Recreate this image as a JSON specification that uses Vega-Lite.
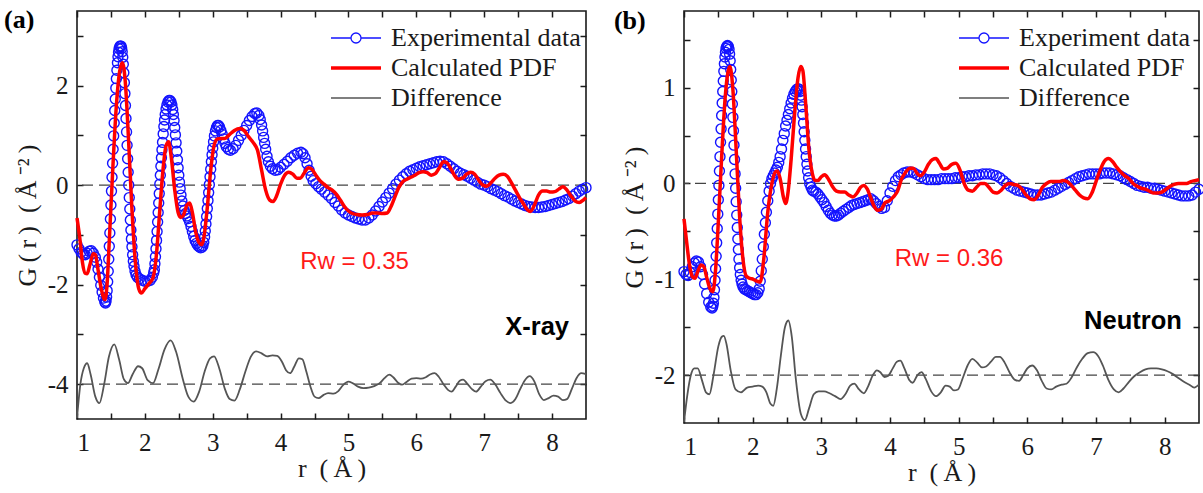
{
"$schema": "https://vega.github.io/schema/vega-lite/v6.json",
"padding": {"left": 3, "top": 6, "right": 2, "bottom": 2},
"background": "white",
"spacing": 18,
"config": {
  "view": {"stroke": "#1a1a1a", "strokeWidth": 1.6},
  "axis": {"grid": false, "domain": false, "labelFont": "Liberation Serif", "labelFontSize": 25, "labelColor": "#1a1a1a", "titleFont": "Liberation Serif", "titleFontSize": 26, "titleFontWeight": "normal", "titleColor": "#1a1a1a", "tickColor": "#1a1a1a", "tickWidth": 1.5, "tickSize": -6, "labelPadding": 15, "labelOverlap": false},
  "axisX": {"labelPadding": 17},
  "legend": {"title": null, "padding": 0, "rowPadding": 4, "labelOffset": 7, "symbolSize": 400, "labelFont": "Liberation Serif", "labelFontSize": 26, "labelColor": "#1a1a1a", "labelLimit": 400}
},
"resolve": {"scale": {"color": "independent"}, "legend": {"color": "independent"}},
"datasets": {
"expA": [{"r":1.0,"g":-1.2},{"r":1.03,"g":-1.28},{"r":1.06,"g":-1.35},{"r":1.09,"g":-1.39},{"r":1.12,"g":-1.4},{"r":1.15,"g":-1.37},{"r":1.18,"g":-1.33},{"r":1.21,"g":-1.32},{"r":1.24,"g":-1.37},{"r":1.27,"g":-1.45},{"r":1.29,"g":-1.55},{"r":1.31,"g":-1.69},{"r":1.33,"g":-1.85},{"r":1.35,"g":-2.01},{"r":1.37,"g":-2.15},{"r":1.39,"g":-2.27},{"r":1.41,"g":-2.35},
{"r":1.42,"g":-2.37},{"r":1.428,"g":-2.33},{"r":1.436,"g":-2.25},{"r":1.444,"g":-2.12},{"r":1.452,"g":-1.94},{"r":1.46,"g":-1.73},{"r":1.468,"g":-1.49},{"r":1.476,"g":-1.23},{"r":1.484,"g":-0.96},{"r":1.492,"g":-0.68},{"r":1.5,"g":-0.4},{"r":1.508,"g":-0.12},{"r":1.516,"g":0.16},{"r":1.524,"g":0.44},{"r":1.532,"g":0.72},{"r":1.54,"g":0.99},{"r":1.548,"g":1.25},{"r":1.556,"g":1.5},{"r":1.564,"g":1.73},{"r":1.572,"g":1.95},{"r":1.58,"g":2.14},{"r":1.588,"g":2.31},{"r":1.596,"g":2.46},{"r":1.604,"g":2.58},{"r":1.612,"g":2.67},{"r":1.62,"g":2.74},{"r":1.63,"g":2.78},{"r":1.64,"g":2.8},{"r":1.65,"g":2.79},{"r":1.658,"g":2.75},{"r":1.666,"g":2.68},{"r":1.674,"g":2.57},{"r":1.682,"g":2.43},{"r":1.69,"g":2.26},{"r":1.698,"g":2.06},{"r":1.706,"g":1.84},{"r":1.714,"g":1.6},{"r":1.722,"g":1.34},{"r":1.73,"g":1.07},{"r":1.738,"g":0.8},{"r":1.746,"g":0.53},{"r":1.754,"g":0.26},{"r":1.762,"g":0.0},{"r":1.77,"g":-0.25},{"r":1.778,"g":-0.48},{"r":1.786,"g":-0.7},{"r":1.794,"g":-0.9},{"r":1.802,"g":-1.08},{"r":1.81,"g":-1.24},{"r":1.82,"g":-1.4},{"r":1.83,"g":-1.53},{"r":1.84,"g":-1.63},{"r":1.855,"g":-1.73},{"r":1.87,"g":-1.8},{"r":1.89,"g":-1.85},{"r":1.92,"g":-1.88},{"r":1.96,"g":-1.91},{"r":2.0,"g":-1.93},{"r":2.04,"g":-1.93},{"r":2.08,"g":-1.91},{"r":2.11,"g":-1.85},{"r":2.13,"g":-1.76},
{"r":2.14,"g":-1.7},{"r":2.148,"g":-1.58},{"r":2.156,"g":-1.44},{"r":2.164,"g":-1.28},{"r":2.172,"g":-1.11},{"r":2.18,"g":-0.93},{"r":2.188,"g":-0.74},{"r":2.196,"g":-0.55},{"r":2.204,"g":-0.36},{"r":2.212,"g":-0.17},{"r":2.22,"g":0.02},{"r":2.228,"g":0.2},{"r":2.236,"g":0.38},{"r":2.244,"g":0.55},{"r":2.252,"g":0.71},{"r":2.26,"g":0.86},{"r":2.27,"g":1.03},{"r":2.28,"g":1.18},{"r":2.29,"g":1.31},{"r":2.3,"g":1.42},{"r":2.312,"g":1.53},{"r":2.325,"g":1.61},{"r":2.34,"g":1.67},{"r":2.355,"g":1.7},{"r":2.37,"g":1.7},
{"r":2.385,"g":1.67},{"r":2.398,"g":1.61},{"r":2.41,"g":1.52},{"r":2.42,"g":1.42},{"r":2.43,"g":1.3},{"r":2.44,"g":1.16},{"r":2.45,"g":1.01},{"r":2.46,"g":0.85},{"r":2.47,"g":0.68},{"r":2.48,"g":0.51},{"r":2.49,"g":0.35},{"r":2.5,"g":0.2},{"r":2.51,"g":0.06},{"r":2.52,"g":-0.07},{"r":2.532,"g":-0.2},{"r":2.545,"g":-0.32},{"r":2.56,"g":-0.42},{"r":2.58,"g":-0.51},{"r":2.6,"g":-0.57},{"r":2.62,"g":-0.62},{"r":2.64,"g":-0.67},{"r":2.66,"g":-0.74},{"r":2.68,"g":-0.83},{"r":2.7,"g":-0.93},{"r":2.72,"g":-1.03},{"r":2.74,"g":-1.11},{"r":2.76,"g":-1.17},{"r":2.78,"g":-1.21},{"r":2.8,"g":-1.24},{"r":2.82,"g":-1.26},{"r":2.84,"g":-1.25},
{"r":2.855,"g":-1.22},{"r":2.868,"g":-1.15},{"r":2.88,"g":-1.04},{"r":2.89,"g":-0.92},{"r":2.9,"g":-0.78},{"r":2.91,"g":-0.63},{"r":2.92,"g":-0.47},{"r":2.93,"g":-0.31},{"r":2.94,"g":-0.15},{"r":2.95,"g":0.01},{"r":2.96,"g":0.17},{"r":2.97,"g":0.32},{"r":2.98,"g":0.47},{"r":2.99,"g":0.61},{"r":3.0,"g":0.74},{"r":3.012,"g":0.87},{"r":3.025,"g":0.99},{"r":3.04,"g":1.09},{"r":3.055,"g":1.16},{"r":3.07,"g":1.2},{"r":3.085,"g":1.2},
{"r":3.1,"g":1.17},{"r":3.12,"g":1.1},{"r":3.14,"g":1.02},{"r":3.16,"g":0.93},{"r":3.18,"g":0.84},{"r":3.2,"g":0.77},{"r":3.23,"g":0.72},{"r":3.26,"g":0.7},{"r":3.3,"g":0.73},{"r":3.34,"g":0.8},{"r":3.38,"g":0.9},{"r":3.42,"g":1.0},{"r":3.46,"g":1.1},{"r":3.5,"g":1.2},{"r":3.54,"g":1.3},{"r":3.58,"g":1.38},{"r":3.62,"g":1.44},{"r":3.65,"g":1.45},{"r":3.68,"g":1.4},{"r":3.7,"g":1.32},{"r":3.72,"g":1.21},{"r":3.735,"g":1.09},{"r":3.75,"g":0.96},{"r":3.765,"g":0.84},{"r":3.78,"g":0.72},{"r":3.8,"g":0.58},{"r":3.82,"g":0.47},{"r":3.85,"g":0.38},{"r":3.88,"g":0.33},{"r":3.92,"g":0.3},{"r":3.96,"g":0.31},{"r":4.0,"g":0.36},{"r":4.05,"g":0.42},{"r":4.1,"g":0.48},{"r":4.15,"g":0.55},{"r":4.2,"g":0.6},{"r":4.25,"g":0.64},{"r":4.3,"g":0.66},{"r":4.33,"g":0.63},{"r":4.36,"g":0.55},{"r":4.39,"g":0.43},{"r":4.42,"g":0.3},{"r":4.45,"g":0.18},{"r":4.48,"g":0.09},{"r":4.52,"g":0.03},{"r":4.56,"g":-0.03},{"r":4.6,"g":-0.08},{"r":4.65,"g":-0.14},{"r":4.7,"g":-0.2},{"r":4.75,"g":-0.27},{"r":4.8,"g":-0.35},{"r":4.85,"g":-0.42},{"r":4.9,"g":-0.5},{"r":4.95,"g":-0.56},{"r":5.0,"g":-0.6},{"r":5.05,"g":-0.63},{"r":5.1,"g":-0.66},{"r":5.15,"g":-0.68},{"r":5.2,"g":-0.7},{"r":5.25,"g":-0.7},{"r":5.3,"g":-0.66},{"r":5.35,"g":-0.6},{"r":5.4,"g":-0.52},{"r":5.45,"g":-0.43},{"r":5.5,"g":-0.34},{"r":5.55,"g":-0.25},{"r":5.6,"g":-0.16},{"r":5.65,"g":-0.07},{"r":5.7,"g":0.02},{"r":5.75,"g":0.1},{"r":5.8,"g":0.17},{"r":5.85,"g":0.23},{"r":5.9,"g":0.28},{"r":5.95,"g":0.31},{"r":6.0,"g":0.34},{"r":6.05,"g":0.37},{"r":6.1,"g":0.39},{"r":6.15,"g":0.41},{"r":6.2,"g":0.43},{"r":6.25,"g":0.45},{"r":6.3,"g":0.47},{"r":6.35,"g":0.48},{"r":6.4,"g":0.47},{"r":6.45,"g":0.43},{"r":6.5,"g":0.38},{"r":6.55,"g":0.33},{"r":6.6,"g":0.28},{"r":6.65,"g":0.24},{"r":6.7,"g":0.21},{"r":6.75,"g":0.18},{"r":6.8,"g":0.14},{"r":6.85,"g":0.1},{"r":6.9,"g":0.06},{"r":6.95,"g":0.02},{"r":7.0,"g":0.0},{"r":7.05,"g":-0.03},{"r":7.1,"g":-0.07},{"r":7.15,"g":-0.1},{"r":7.2,"g":-0.13},{"r":7.25,"g":-0.17},{"r":7.3,"g":-0.21},{"r":7.35,"g":-0.24},{"r":7.4,"g":-0.28},{"r":7.45,"g":-0.32},{"r":7.5,"g":-0.35},{"r":7.55,"g":-0.38},{"r":7.6,"g":-0.41},{"r":7.65,"g":-0.43},{"r":7.7,"g":-0.44},{"r":7.75,"g":-0.45},{"r":7.8,"g":-0.45},{"r":7.85,"g":-0.44},{"r":7.9,"g":-0.43},{"r":7.95,"g":-0.41},{"r":8.0,"g":-0.39},{"r":8.05,"g":-0.37},{"r":8.1,"g":-0.35},{"r":8.15,"g":-0.33},{"r":8.2,"g":-0.3},{"r":8.25,"g":-0.27},{"r":8.3,"g":-0.22},{"r":8.35,"g":-0.17},{"r":8.4,"g":-0.12},{"r":8.45,"g":-0.08},{"r":8.5,"g":-0.05}],
"calcA": [{"r":1.0,"g":-0.66},{"r":1.04,"g":-1.05},{"r":1.08,"g":-1.55},{"r":1.12,"g":-1.77},{"r":1.15,"g":-1.78},{"r":1.19,"g":-1.6},{"r":1.24,"g":-1.38},{"r":1.27,"g":-1.4},{"r":1.31,"g":-1.7},{"r":1.36,"g":-2.1},{"r":1.41,"g":-2.3},{"r":1.44,"g":-2.05},{"r":1.48,"g":-1.0},{"r":1.53,"g":0.4},{"r":1.58,"g":1.6},{"r":1.63,"g":2.3},{"r":1.67,"g":2.46},{"r":1.71,"g":2.1},{"r":1.76,"g":0.9},{"r":1.81,"g":-0.5},{"r":1.86,"g":-1.55},{"r":1.91,"g":-2.08},{"r":1.95,"g":-2.17},{"r":2.0,"g":-2.08},{"r":2.06,"g":-1.98},{"r":2.12,"g":-1.86},{"r":2.17,"g":-1.4},{"r":2.22,"g":-0.5},{"r":2.27,"g":0.35},{"r":2.31,"g":0.78},{"r":2.35,"g":0.87},{"r":2.39,"g":0.55},{"r":2.44,"g":-0.1},{"r":2.49,"g":-0.55},{"r":2.53,"g":-0.65},{"r":2.57,"g":-0.6},{"r":2.62,"g":-0.4},{"r":2.66,"g":-0.36},{"r":2.7,"g":-0.55},{"r":2.75,"g":-0.95},{"r":2.8,"g":-1.16},{"r":2.84,"g":-1.2},{"r":2.87,"g":-1.05},{"r":2.92,"g":-0.45},{"r":2.97,"g":0.3},{"r":3.02,"g":0.8},{"r":3.07,"g":0.93},{"r":3.12,"g":0.94},{"r":3.18,"g":0.94},{"r":3.25,"g":1.02},{"r":3.32,"g":1.1},{"r":3.4,"g":1.14},{"r":3.46,"g":1.1},{"r":3.53,"g":0.97},{"r":3.6,"g":0.85},{"r":3.66,"g":0.7},{"r":3.72,"g":0.3},{"r":3.78,"g":-0.1},{"r":3.84,"g":-0.3},{"r":3.89,"g":-0.33},{"r":3.94,"g":-0.22},{"r":4.0,"g":0.02},{"r":4.06,"g":0.2},{"r":4.12,"g":0.26},{"r":4.18,"g":0.22},{"r":4.24,"g":0.14},{"r":4.29,"g":0.14},{"r":4.35,"g":0.25},{"r":4.41,"g":0.35},{"r":4.46,"g":0.32},{"r":4.52,"g":0.2},{"r":4.58,"g":0.09},{"r":4.64,"g":0.02},{"r":4.7,"g":-0.05},{"r":4.76,"g":-0.1},{"r":4.82,"g":-0.18},{"r":4.88,"g":-0.3},{"r":4.94,"g":-0.43},{"r":5.0,"g":-0.52},{"r":5.06,"g":-0.57},{"r":5.12,"g":-0.59},{"r":5.2,"g":-0.6},{"r":5.28,"g":-0.59},{"r":5.35,"g":-0.56},{"r":5.42,"g":-0.56},{"r":5.5,"g":-0.57},{"r":5.57,"g":-0.56},{"r":5.62,"g":-0.45},{"r":5.68,"g":-0.25},{"r":5.74,"g":-0.05},{"r":5.8,"g":0.07},{"r":5.86,"g":0.12},{"r":5.92,"g":0.16},{"r":5.98,"g":0.2},{"r":6.04,"g":0.25},{"r":6.1,"g":0.27},{"r":6.16,"g":0.25},{"r":6.22,"g":0.2},{"r":6.28,"g":0.23},{"r":6.34,"g":0.35},{"r":6.4,"g":0.47},{"r":6.45,"g":0.45},{"r":6.5,"g":0.35},{"r":6.56,"g":0.2},{"r":6.62,"g":0.12},{"r":6.68,"g":0.14},{"r":6.74,"g":0.22},{"r":6.8,"g":0.26},{"r":6.86,"g":0.22},{"r":6.92,"g":0.1},{"r":6.98,"g":0.0},{"r":7.04,"g":-0.02},{"r":7.1,"g":0.05},{"r":7.16,"g":0.14},{"r":7.22,"g":0.2},{"r":7.28,"g":0.22},{"r":7.34,"g":0.18},{"r":7.4,"g":0.05},{"r":7.46,"g":-0.1},{"r":7.52,"g":-0.25},{"r":7.58,"g":-0.38},{"r":7.64,"g":-0.5},{"r":7.68,"g":-0.53},{"r":7.74,"g":-0.4},{"r":7.8,"g":-0.2},{"r":7.86,"g":-0.12},{"r":7.92,"g":-0.12},{"r":7.98,"g":-0.14},{"r":8.04,"g":-0.13},{"r":8.1,"g":-0.08},{"r":8.16,"g":-0.03},{"r":8.22,"g":-0.1},{"r":8.28,"g":-0.22},{"r":8.34,"g":-0.32},{"r":8.4,"g":-0.35},{"r":8.46,"g":-0.3},{"r":8.5,"g":-0.25}],
"diffA": [{"r":1.0,"g":-4.68},{"r":1.05,"g":-4.0},{"r":1.1,"g":-3.68},{"r":1.15,"g":-3.58},{"r":1.2,"g":-3.8},{"r":1.27,"g":-4.25},{"r":1.33,"g":-4.38},{"r":1.4,"g":-4.0},{"r":1.47,"g":-3.45},{"r":1.55,"g":-3.2},{"r":1.62,"g":-3.5},{"r":1.69,"g":-3.9},{"r":1.75,"g":-3.98},{"r":1.82,"g":-3.8},{"r":1.9,"g":-3.64},{"r":1.96,"g":-3.68},{"r":2.04,"g":-3.92},{"r":2.12,"g":-3.98},{"r":2.2,"g":-3.7},{"r":2.29,"g":-3.3},{"r":2.38,"g":-3.12},{"r":2.46,"g":-3.35},{"r":2.56,"g":-3.9},{"r":2.64,"g":-4.25},{"r":2.72,"g":-4.35},{"r":2.8,"g":-4.15},{"r":2.88,"g":-3.75},{"r":2.96,"g":-3.48},{"r":3.02,"g":-3.44},{"r":3.1,"g":-3.7},{"r":3.18,"g":-4.1},{"r":3.25,"g":-4.3},{"r":3.32,"g":-4.33},{"r":3.4,"g":-4.1},{"r":3.48,"g":-3.75},{"r":3.56,"g":-3.45},{"r":3.64,"g":-3.34},{"r":3.72,"g":-3.38},{"r":3.8,"g":-3.44},{"r":3.88,"g":-3.42},{"r":3.95,"g":-3.43},{"r":4.02,"g":-3.55},{"r":4.08,"g":-3.72},{"r":4.14,"g":-3.78},{"r":4.2,"g":-3.65},{"r":4.27,"g":-3.48},{"r":4.32,"g":-3.5},{"r":4.38,"g":-3.75},{"r":4.44,"g":-4.05},{"r":4.5,"g":-4.25},{"r":4.56,"g":-4.28},{"r":4.63,"g":-4.22},{"r":4.7,"g":-4.18},{"r":4.78,"g":-4.19},{"r":4.85,"g":-4.14},{"r":4.92,"g":-4.02},{"r":5.0,"g":-3.95},{"r":5.06,"g":-3.98},{"r":5.14,"g":-4.05},{"r":5.22,"g":-4.08},{"r":5.3,"g":-4.07},{"r":5.38,"g":-4.04},{"r":5.46,"g":-3.98},{"r":5.53,"g":-3.88},{"r":5.6,"g":-3.81},{"r":5.66,"g":-3.86},{"r":5.73,"g":-3.97},{"r":5.79,"g":-4.01},{"r":5.86,"g":-3.95},{"r":5.93,"g":-3.89},{"r":6.0,"g":-3.88},{"r":6.07,"g":-3.89},{"r":6.14,"g":-3.86},{"r":6.21,"g":-3.8},{"r":6.27,"g":-3.78},{"r":6.33,"g":-3.85},{"r":6.4,"g":-4.0},{"r":6.47,"g":-4.12},{"r":6.52,"g":-4.15},{"r":6.58,"g":-4.05},{"r":6.64,"g":-3.93},{"r":6.69,"g":-3.91},{"r":6.75,"g":-3.99},{"r":6.82,"g":-4.1},{"r":6.88,"g":-4.15},{"r":6.95,"g":-4.05},{"r":7.02,"g":-3.94},{"r":7.09,"g":-3.91},{"r":7.16,"g":-4.0},{"r":7.24,"g":-4.18},{"r":7.32,"g":-4.33},{"r":7.39,"g":-4.38},{"r":7.46,"g":-4.3},{"r":7.53,"g":-4.1},{"r":7.6,"g":-3.92},{"r":7.67,"g":-3.84},{"r":7.74,"g":-3.95},{"r":7.81,"g":-4.2},{"r":7.88,"g":-4.32},{"r":7.95,"g":-4.28},{"r":8.02,"g":-4.23},{"r":8.09,"g":-4.25},{"r":8.16,"g":-4.32},{"r":8.22,"g":-4.3},{"r":8.29,"g":-4.1},{"r":8.36,"g":-3.88},{"r":8.43,"g":-3.78},{"r":8.5,"g":-3.8}],
"expB": [{"r":1.0,"g":-0.92},{"r":1.03,"g":-0.95},{"r":1.06,"g":-0.96},{"r":1.09,"g":-0.93},{"r":1.12,"g":-0.87},{"r":1.15,"g":-0.83},{"r":1.18,"g":-0.81},{"r":1.21,"g":-0.82},{"r":1.24,"g":-0.87},{"r":1.27,"g":-0.95},{"r":1.3,"g":-1.05},{"r":1.33,"g":-1.15},{"r":1.36,"g":-1.24},{"r":1.39,"g":-1.29},{"r":1.41,"g":-1.3},
{"r":1.42,"g":-1.28},{"r":1.428,"g":-1.25},{"r":1.436,"g":-1.19},{"r":1.444,"g":-1.11},{"r":1.452,"g":-1.01},{"r":1.46,"g":-0.89},{"r":1.468,"g":-0.76},{"r":1.476,"g":-0.62},{"r":1.484,"g":-0.47},{"r":1.492,"g":-0.32},{"r":1.5,"g":-0.17},{"r":1.508,"g":-0.02},{"r":1.516,"g":0.13},{"r":1.524,"g":0.28},{"r":1.532,"g":0.43},{"r":1.54,"g":0.57},{"r":1.548,"g":0.71},{"r":1.556,"g":0.84},{"r":1.564,"g":0.96},{"r":1.572,"g":1.07},{"r":1.58,"g":1.17},{"r":1.588,"g":1.25},{"r":1.596,"g":1.32},{"r":1.604,"g":1.37},{"r":1.612,"g":1.41},{"r":1.622,"g":1.43},{"r":1.634,"g":1.44},{"r":1.646,"g":1.43},
{"r":1.656,"g":1.4},{"r":1.664,"g":1.35},{"r":1.672,"g":1.28},{"r":1.68,"g":1.19},{"r":1.688,"g":1.08},{"r":1.696,"g":0.96},{"r":1.704,"g":0.83},{"r":1.712,"g":0.69},{"r":1.72,"g":0.55},{"r":1.728,"g":0.4},{"r":1.736,"g":0.25},{"r":1.744,"g":0.1},{"r":1.752,"g":-0.05},{"r":1.76,"g":-0.19},{"r":1.768,"g":-0.33},{"r":1.776,"g":-0.46},{"r":1.784,"g":-0.58},{"r":1.792,"g":-0.69},{"r":1.8,"g":-0.79},{"r":1.81,"g":-0.88},{"r":1.82,"g":-0.95},{"r":1.832,"g":-1.01},{"r":1.845,"g":-1.05},{"r":1.86,"g":-1.08},{"r":1.88,"g":-1.1},{"r":1.9,"g":-1.11},{"r":1.925,"g":-1.12},{"r":1.95,"g":-1.13},{"r":1.975,"g":-1.14},{"r":2.0,"g":-1.15},{"r":2.025,"g":-1.16},{"r":2.05,"g":-1.16},{"r":2.075,"g":-1.14},
{"r":2.095,"g":-1.1},{"r":2.11,"g":-1.02},{"r":2.125,"g":-0.91},{"r":2.14,"g":-0.79},{"r":2.155,"g":-0.66},{"r":2.17,"g":-0.53},{"r":2.185,"g":-0.41},{"r":2.2,"g":-0.3},{"r":2.22,"g":-0.18},{"r":2.24,"g":-0.08},{"r":2.26,"g":0.0},{"r":2.28,"g":0.05},{"r":2.3,"g":0.08},{"r":2.32,"g":0.11},{"r":2.34,"g":0.14},{"r":2.36,"g":0.17},{"r":2.38,"g":0.22},{"r":2.4,"g":0.28},{"r":2.42,"g":0.36},{"r":2.44,"g":0.45},{"r":2.46,"g":0.52},{"r":2.48,"g":0.6},{"r":2.5,"g":0.66},{"r":2.52,"g":0.72},{"r":2.54,"g":0.78},{"r":2.56,"g":0.84},{"r":2.58,"g":0.89},{"r":2.6,"g":0.93},{"r":2.62,"g":0.96},{"r":2.64,"g":0.98},{"r":2.66,"g":0.99},{"r":2.68,"g":0.98},
{"r":2.69,"g":0.96},{"r":2.7,"g":0.92},{"r":2.71,"g":0.87},{"r":2.72,"g":0.8},{"r":2.73,"g":0.72},{"r":2.74,"g":0.63},{"r":2.75,"g":0.54},{"r":2.76,"g":0.45},{"r":2.77,"g":0.36},{"r":2.78,"g":0.28},{"r":2.79,"g":0.2},{"r":2.8,"g":0.13},{"r":2.815,"g":0.06},{"r":2.83,"g":0.0},{"r":2.85,"g":-0.04},{"r":2.87,"g":-0.07},{"r":2.89,"g":-0.08},{"r":2.92,"g":-0.09},{"r":2.95,"g":-0.11},{"r":2.98,"g":-0.14},{"r":3.01,"g":-0.17},{"r":3.04,"g":-0.2},{"r":3.07,"g":-0.24},{"r":3.1,"g":-0.28},{"r":3.13,"g":-0.31},{"r":3.16,"g":-0.33},{"r":3.19,"g":-0.34},{"r":3.22,"g":-0.34},{"r":3.25,"g":-0.33},{"r":3.28,"g":-0.31},{"r":3.32,"g":-0.29},{"r":3.36,"g":-0.27},{"r":3.4,"g":-0.25},{"r":3.44,"g":-0.23},{"r":3.48,"g":-0.22},{"r":3.52,"g":-0.21},{"r":3.56,"g":-0.2},{"r":3.6,"g":-0.19},{"r":3.64,"g":-0.18},{"r":3.68,"g":-0.17},{"r":3.72,"g":-0.16},{"r":3.76,"g":-0.18},{"r":3.8,"g":-0.21},{"r":3.84,"g":-0.24},{"r":3.88,"g":-0.26},{"r":3.92,"g":-0.25},{"r":3.96,"g":-0.18},{"r":4.0,"g":-0.1},{"r":4.04,"g":-0.03},{"r":4.08,"g":0.03},{"r":4.12,"g":0.07},{"r":4.16,"g":0.09},{"r":4.2,"g":0.11},{"r":4.25,"g":0.12},{"r":4.3,"g":0.12},{"r":4.35,"g":0.11},{"r":4.4,"g":0.09},{"r":4.45,"g":0.07},{"r":4.5,"g":0.05},{"r":4.55,"g":0.04},{"r":4.6,"g":0.04},{"r":4.65,"g":0.04},{"r":4.7,"g":0.04},{"r":4.75,"g":0.05},{"r":4.8,"g":0.05},{"r":4.85,"g":0.05},{"r":4.9,"g":0.05},{"r":4.95,"g":0.06},{"r":5.0,"g":0.06},{"r":5.05,"g":0.07},{"r":5.1,"g":0.07},{"r":5.15,"g":0.08},{"r":5.2,"g":0.08},{"r":5.25,"g":0.09},{"r":5.3,"g":0.09},{"r":5.35,"g":0.1},{"r":5.4,"g":0.1},{"r":5.45,"g":0.1},{"r":5.5,"g":0.09},{"r":5.55,"g":0.08},{"r":5.6,"g":0.06},{"r":5.65,"g":0.03},{"r":5.7,"g":0.0},{"r":5.75,"g":-0.03},{"r":5.8,"g":-0.05},{"r":5.85,"g":-0.07},{"r":5.9,"g":-0.08},{"r":5.95,"g":-0.09},{"r":6.0,"g":-0.1},{"r":6.05,"g":-0.11},{"r":6.1,"g":-0.12},{"r":6.15,"g":-0.12},{"r":6.2,"g":-0.12},{"r":6.25,"g":-0.11},{"r":6.3,"g":-0.1},{"r":6.35,"g":-0.09},{"r":6.4,"g":-0.07},{"r":6.45,"g":-0.05},{"r":6.5,"g":-0.03},{"r":6.55,"g":-0.01},{"r":6.6,"g":0.01},{"r":6.65,"g":0.03},{"r":6.7,"g":0.05},{"r":6.75,"g":0.07},{"r":6.8,"g":0.08},{"r":6.85,"g":0.09},{"r":6.9,"g":0.1},{"r":6.95,"g":0.1},{"r":7.0,"g":0.1},{"r":7.05,"g":0.1},{"r":7.1,"g":0.11},{"r":7.15,"g":0.11},{"r":7.2,"g":0.11},{"r":7.25,"g":0.1},{"r":7.3,"g":0.09},{"r":7.35,"g":0.08},{"r":7.4,"g":0.06},{"r":7.45,"g":0.04},{"r":7.5,"g":0.02},{"r":7.55,"g":0.0},{"r":7.6,"g":-0.02},{"r":7.65,"g":-0.03},{"r":7.7,"g":-0.04},{"r":7.75,"g":-0.04},{"r":7.8,"g":-0.05},{"r":7.85,"g":-0.05},{"r":7.9,"g":-0.06},{"r":7.95,"g":-0.07},{"r":8.0,"g":-0.08},{"r":8.05,"g":-0.09},{"r":8.1,"g":-0.1},{"r":8.15,"g":-0.11},{"r":8.2,"g":-0.12},{"r":8.25,"g":-0.13},{"r":8.3,"g":-0.13},{"r":8.35,"g":-0.13},{"r":8.4,"g":-0.12},{"r":8.45,"g":-0.09},{"r":8.5,"g":-0.06}],
"calcB": [{"r":1.0,"g":-0.37},{"r":1.04,"g":-0.62},{"r":1.08,"g":-0.85},{"r":1.12,"g":-0.97},{"r":1.16,"g":-0.99},{"r":1.2,"g":-0.92},{"r":1.25,"g":-0.85},{"r":1.29,"g":-0.87},{"r":1.33,"g":-0.98},{"r":1.38,"g":-1.1},{"r":1.42,"g":-1.13},{"r":1.46,"g":-0.9},{"r":1.5,"g":-0.4},{"r":1.55,"g":0.3},{"r":1.6,"g":0.9},{"r":1.64,"g":1.16},{"r":1.67,"g":1.22},{"r":1.71,"g":1.0},{"r":1.76,"g":0.35},{"r":1.81,"g":-0.35},{"r":1.86,"g":-0.8},{"r":1.91,"g":-0.97},{"r":1.96,"g":-0.99},{"r":2.01,"g":-1.0},{"r":2.06,"g":-1.02},{"r":2.11,"g":-1.03},{"r":2.16,"g":-0.8},{"r":2.22,"g":-0.3},{"r":2.28,"g":0.0},{"r":2.33,"g":0.12},{"r":2.36,"g":0.13},{"r":2.4,"g":0.05},{"r":2.45,"g":-0.15},{"r":2.48,"g":-0.21},{"r":2.51,"g":-0.12},{"r":2.56,"g":0.25},{"r":2.61,"g":0.72},{"r":2.66,"g":1.1},{"r":2.7,"g":1.22},{"r":2.73,"g":1.18},{"r":2.77,"g":0.85},{"r":2.82,"g":0.35},{"r":2.87,"g":0.1},{"r":2.91,"g":0.03},{"r":2.95,"g":0.03},{"r":3.0,"g":0.07},{"r":3.05,"g":0.09},{"r":3.1,"g":0.05},{"r":3.16,"g":-0.03},{"r":3.22,"g":-0.08},{"r":3.28,"g":-0.09},{"r":3.34,"g":-0.09},{"r":3.4,"g":-0.12},{"r":3.46,"g":-0.14},{"r":3.52,"g":-0.1},{"r":3.57,"g":-0.04},{"r":3.62,"g":-0.02},{"r":3.67,"g":-0.06},{"r":3.72,"g":-0.15},{"r":3.77,"g":-0.24},{"r":3.82,"g":-0.28},{"r":3.87,"g":-0.27},{"r":3.93,"g":-0.2},{"r":3.99,"g":-0.18},{"r":4.05,"g":-0.14},{"r":4.11,"g":-0.08},{"r":4.17,"g":0.05},{"r":4.23,"g":0.12},{"r":4.29,"g":0.16},{"r":4.34,"g":0.16},{"r":4.39,"g":0.11},{"r":4.44,"g":0.08},{"r":4.5,"g":0.12},{"r":4.56,"g":0.2},{"r":4.62,"g":0.25},{"r":4.67,"g":0.26},{"r":4.72,"g":0.21},{"r":4.78,"g":0.15},{"r":4.84,"g":0.16},{"r":4.9,"g":0.2},{"r":4.96,"g":0.21},{"r":5.02,"g":0.14},{"r":5.08,"g":0.0},{"r":5.14,"g":-0.07},{"r":5.2,"g":-0.08},{"r":5.26,"g":-0.04},{"r":5.32,"g":0.0},{"r":5.38,"g":0.0},{"r":5.44,"g":-0.04},{"r":5.5,"g":-0.09},{"r":5.56,"g":-0.1},{"r":5.62,"g":-0.07},{"r":5.68,"g":-0.02},{"r":5.74,"g":0.0},{"r":5.8,"g":-0.01},{"r":5.86,"g":-0.02},{"r":5.92,"g":-0.06},{"r":5.98,"g":-0.12},{"r":6.04,"g":-0.16},{"r":6.1,"g":-0.17},{"r":6.16,"g":-0.12},{"r":6.22,"g":-0.04},{"r":6.28,"g":0.0},{"r":6.34,"g":0.02},{"r":6.4,"g":0.02},{"r":6.46,"g":0.02},{"r":6.52,"g":0.03},{"r":6.58,"g":0.02},{"r":6.64,"g":-0.02},{"r":6.7,"g":-0.07},{"r":6.76,"g":-0.12},{"r":6.82,"g":-0.15},{"r":6.88,"g":-0.16},{"r":6.94,"g":-0.1},{"r":7.0,"g":0.02},{"r":7.06,"g":0.14},{"r":7.12,"g":0.23},{"r":7.18,"g":0.26},{"r":7.24,"g":0.23},{"r":7.3,"g":0.17},{"r":7.36,"g":0.12},{"r":7.42,"g":0.08},{"r":7.48,"g":0.05},{"r":7.54,"g":0.0},{"r":7.6,"g":-0.03},{"r":7.66,"g":-0.05},{"r":7.72,"g":-0.06},{"r":7.78,"g":-0.08},{"r":7.84,"g":-0.1},{"r":7.9,"g":-0.1},{"r":7.96,"g":-0.09},{"r":8.02,"g":-0.06},{"r":8.08,"g":-0.03},{"r":8.14,"g":-0.01},{"r":8.2,"g":0.0},{"r":8.26,"g":0.0},{"r":8.32,"g":0.0},{"r":8.38,"g":0.02},{"r":8.44,"g":0.03},{"r":8.5,"g":0.04}],
"diffB": [{"r":1.0,"g":-2.49},{"r":1.05,"g":-2.2},{"r":1.1,"g":-2.0},{"r":1.15,"g":-1.93},{"r":1.2,"g":-1.93},{"r":1.26,"g":-2.05},{"r":1.32,"g":-2.18},{"r":1.37,"g":-2.2},{"r":1.43,"g":-2.0},{"r":1.5,"g":-1.7},{"r":1.55,"g":-1.6},{"r":1.58,"g":-1.59},{"r":1.62,"g":-1.68},{"r":1.68,"g":-1.95},{"r":1.75,"g":-2.15},{"r":1.83,"g":-2.18},{"r":1.92,"g":-2.13},{"r":2.0,"g":-2.12},{"r":2.08,"g":-2.11},{"r":2.14,"g":-2.12},{"r":2.2,"g":-2.18},{"r":2.26,"g":-2.3},{"r":2.3,"g":-2.32},{"r":2.35,"g":-2.15},{"r":2.41,"g":-1.8},{"r":2.47,"g":-1.5},{"r":2.52,"g":-1.43},{"r":2.57,"g":-1.6},{"r":2.63,"g":-2.05},{"r":2.7,"g":-2.4},{"r":2.76,"g":-2.47},{"r":2.82,"g":-2.35},{"r":2.89,"g":-2.2},{"r":2.96,"g":-2.17},{"r":3.04,"g":-2.17},{"r":3.12,"g":-2.19},{"r":3.2,"g":-2.22},{"r":3.28,"g":-2.25},{"r":3.35,"g":-2.2},{"r":3.42,"g":-2.11},{"r":3.48,"g":-2.09},{"r":3.55,"g":-2.15},{"r":3.62,"g":-2.19},{"r":3.68,"g":-2.12},{"r":3.75,"g":-2.0},{"r":3.81,"g":-1.95},{"r":3.86,"g":-1.97},{"r":3.92,"g":-2.02},{"r":3.97,"g":-2.01},{"r":4.04,"g":-1.93},{"r":4.1,"g":-1.86},{"r":4.15,"g":-1.85},{"r":4.21,"g":-1.93},{"r":4.28,"g":-2.05},{"r":4.33,"g":-2.08},{"r":4.4,"g":-2.0},{"r":4.46,"g":-1.97},{"r":4.52,"g":-2.04},{"r":4.6,"g":-2.17},{"r":4.67,"g":-2.22},{"r":4.74,"g":-2.18},{"r":4.81,"g":-2.11},{"r":4.87,"g":-2.12},{"r":4.93,"g":-2.16},{"r":4.99,"g":-2.15},{"r":5.06,"g":-2.03},{"r":5.13,"g":-1.9},{"r":5.2,"g":-1.83},{"r":5.27,"g":-1.87},{"r":5.34,"g":-1.92},{"r":5.4,"g":-1.91},{"r":5.47,"g":-1.86},{"r":5.54,"g":-1.81},{"r":5.6,"g":-1.81},{"r":5.67,"g":-1.87},{"r":5.74,"g":-1.97},{"r":5.82,"g":-2.05},{"r":5.88,"g":-2.06},{"r":5.94,"g":-2.0},{"r":6.0,"g":-1.93},{"r":6.07,"g":-1.9},{"r":6.14,"g":-1.95},{"r":6.21,"g":-2.06},{"r":6.28,"g":-2.14},{"r":6.35,"g":-2.15},{"r":6.42,"g":-2.12},{"r":6.5,"g":-2.1},{"r":6.57,"g":-2.09},{"r":6.64,"g":-2.03},{"r":6.72,"g":-1.92},{"r":6.8,"g":-1.83},{"r":6.88,"g":-1.77},{"r":6.96,"g":-1.76},{"r":7.03,"g":-1.8},{"r":7.1,"g":-1.9},{"r":7.18,"g":-2.05},{"r":7.26,"g":-2.15},{"r":7.33,"g":-2.18},{"r":7.4,"g":-2.14},{"r":7.48,"g":-2.07},{"r":7.56,"g":-2.01},{"r":7.64,"g":-1.97},{"r":7.72,"g":-1.94},{"r":7.8,"g":-1.93},{"r":7.88,"g":-1.93},{"r":7.96,"g":-1.94},{"r":8.04,"g":-1.96},{"r":8.12,"g":-1.99},{"r":8.2,"g":-2.03},{"r":8.28,"g":-2.07},{"r":8.36,"g":-2.1},{"r":8.43,"g":-2.13},{"r":8.5,"g":-2.1}]
},
"hconcat": [
{
 "width": 509, "height": 408,
 "resolve": {"axis": {"x": "independent", "y": "independent"}},
 "layer": [
  {"data": {"values": [{"g": 0}, {"g": -4}]},
   "mark": {"type": "rule", "strokeDash": [11, 6], "color": "#444444", "strokeWidth": 1.3},
   "encoding": {"y": {"field": "g", "type": "quantitative", "scale": {"domain": [-4.7, 3.5], "nice": false, "zero": false},
     "axis": {"values": [-4,-3,-2,-1,0,1,2,3], "labelExpr": "datum.value % 2 === 0 ? '' + datum.value : ''", "title": "G\u2009(\u2009r\u2009)\u2002(\u2009Å\u2009\u207b\u00b2\u2009)", "titlePadding": 7}}}},
  {"data": {"name": "diffA"},
   "mark": {"type": "line", "interpolate": "monotone", "strokeWidth": 1.8},
   "encoding": {
     "x": {"field": "r", "type": "quantitative", "scale": {"domain": [1, 8.5], "nice": false, "zero": false},
       "axis": {"values": [1,1.5,2,2.5,3,3.5,4,4.5,5,5.5,6,6.5,7,7.5,8], "labelExpr": "datum.value % 1 === 0 ? '' + datum.value : ''", "title": "r\u2002(\u2009Å\u2009)", "titlePadding": 0}},
     "y": {"field": "g", "type": "quantitative", "scale": {"domain": [-4.7, 3.5], "nice": false, "zero": false},
       "axis": {"orient": "right", "values": [-4,-3,-2,-1,0,1,2,3], "labels": false, "title": null}},
     "color": {"datum": "Difference", "type": "nominal", "scale": {"domain": ["Experimental data", "Calculated PDF", "Difference"], "range": ["#1414ff", "#ff0000", "#555555"]},
       "legend": {"orient": "none", "legendX": 281, "legendY": 14, "symbolType": {"expr": "indexof(datum.value, 'Exper') === 0 ? 'M-4,0H-2M-1,0H1M-1,0A0.5,0.5 0 1 1 -2,0A0.5,0.5 0 1 1 -1,0' : 'M-4,0H1'"}, "symbolStrokeWidth": {"expr": "datum.value === 'Calculated PDF' ? 3.5 : 1.3"}, "symbolFillColor": "transparent"}}}},
  {"data": {"name": "expA"},
   "mark": {"type": "point", "filled": false, "size": 100, "strokeWidth": 1.4, "opacity": 1},
   "encoding": {
     "x": {"field": "r", "type": "quantitative", "scale": {"domain": [1, 8.5], "nice": false, "zero": false}, "axis": null},
     "y": {"field": "g", "type": "quantitative", "scale": {"domain": [-4.7, 3.5], "nice": false, "zero": false}, "axis": null},
     "color": {"datum": "Experimental data", "type": "nominal", "scale": {"domain": ["Experimental data", "Calculated PDF", "Difference"], "range": ["#1414ff", "#ff0000", "#555555"]},
       "legend": {"orient": "none", "legendX": 281, "legendY": 14, "symbolType": {"expr": "indexof(datum.value, 'Exper') === 0 ? 'M-4,0H-2M-1,0H1M-1,0A0.5,0.5 0 1 1 -2,0A0.5,0.5 0 1 1 -1,0' : 'M-4,0H1'"}, "symbolStrokeWidth": {"expr": "datum.value === 'Calculated PDF' ? 3.5 : 1.3"}, "symbolFillColor": "transparent"}}}},
  {"data": {"name": "calcA"},
   "mark": {"type": "line", "interpolate": "monotone", "strokeWidth": 3.5},
   "encoding": {
     "x": {"field": "r", "type": "quantitative", "scale": {"domain": [1, 8.5], "nice": false, "zero": false},
       "axis": {"orient": "top", "values": [1,1.5,2,2.5,3,3.5,4,4.5,5,5.5,6,6.5,7,7.5,8], "labels": false, "title": null}},
     "y": {"field": "g", "type": "quantitative", "scale": {"domain": [-4.7, 3.5], "nice": false, "zero": false}, "axis": null},
     "color": {"datum": "Calculated PDF", "type": "nominal", "scale": {"domain": ["Experimental data", "Calculated PDF", "Difference"], "range": ["#1414ff", "#ff0000", "#555555"]},
       "legend": {"orient": "none", "legendX": 281, "legendY": 14, "symbolType": {"expr": "indexof(datum.value, 'Exper') === 0 ? 'M-4,0H-2M-1,0H1M-1,0A0.5,0.5 0 1 1 -2,0A0.5,0.5 0 1 1 -1,0' : 'M-4,0H1'"}, "symbolStrokeWidth": {"expr": "datum.value === 'Calculated PDF' ? 3.5 : 1.3"}, "symbolFillColor": "transparent"}}}},
  {"data": {"values": [{"r": 5.09, "g": -1.55, "t": "Rw = 0.35"}]},
   "mark": {"type": "text", "font": "Liberation Sans", "fontSize": 24, "color": "#ff1a1a", "align": "center", "baseline": "middle"},
   "encoding": {"x": {"field": "r", "type": "quantitative", "axis": null}, "y": {"field": "g", "type": "quantitative", "axis": null}, "text": {"field": "t"}}},
  {"data": {"values": [{"r": 8.25, "g": -2.86, "t": "X-ray"}]},
   "mark": {"type": "text", "font": "Liberation Sans", "fontSize": 25.5, "fontWeight": "bold", "color": "#000000", "align": "right", "baseline": "middle"},
   "encoding": {"x": {"field": "r", "type": "quantitative", "axis": null}, "y": {"field": "g", "type": "quantitative", "axis": null}, "text": {"field": "t"}}},
  {"data": {"values": [{"r": -0.075, "g": 3.32, "t": "(a)"}]},
   "mark": {"type": "text", "font": "Liberation Serif", "fontSize": 26, "fontWeight": "bold", "color": "#000000", "align": "left", "baseline": "middle"},
   "encoding": {"x": {"field": "r", "type": "quantitative", "axis": null}, "y": {"field": "g", "type": "quantitative", "axis": null}, "text": {"field": "t"}}}
 ]
},
{
 "width": 515, "height": 412,
 "resolve": {"axis": {"x": "independent", "y": "independent"}},
 "layer": [
  {"data": {"values": [{"g": 0}, {"g": -2}]},
   "mark": {"type": "rule", "strokeDash": [11, 6], "color": "#444444", "strokeWidth": 1.3},
   "encoding": {"y": {"field": "g", "type": "quantitative", "scale": {"domain": [-2.5, 1.8], "nice": false, "zero": false},
     "axis": {"values": [-2,-1.5,-1,-0.5,0,0.5,1,1.5], "labelExpr": "datum.value % 1 === 0 ? '' + datum.value : ''", "title": "G\u2009(\u2009r\u2009)\u2002(\u2009Å\u2009\u207b\u00b2\u2009)", "titlePadding": 7}}}},
  {"data": {"name": "diffB"},
   "mark": {"type": "line", "interpolate": "monotone", "strokeWidth": 1.8},
   "encoding": {
     "x": {"field": "r", "type": "quantitative", "scale": {"domain": [1, 8.5], "nice": false, "zero": false},
       "axis": {"values": [1,1.5,2,2.5,3,3.5,4,4.5,5,5.5,6,6.5,7,7.5,8], "labelExpr": "datum.value % 1 === 0 ? '' + datum.value : ''", "title": "r\u2002(\u2009Å\u2009)", "titlePadding": 0}},
     "y": {"field": "g", "type": "quantitative", "scale": {"domain": [-2.5, 1.8], "nice": false, "zero": false},
       "axis": {"orient": "right", "values": [-2,-1.5,-1,-0.5,0,0.5,1,1.5], "labels": false, "title": null}},
     "color": {"datum": "Difference", "type": "nominal", "scale": {"domain": ["Experiment data", "Calculated PDF", "Difference"], "range": ["#1414ff", "#ff0000", "#555555"]},
       "legend": {"orient": "none", "legendX": 302, "legendY": 14, "symbolType": {"expr": "indexof(datum.value, 'Exper') === 0 ? 'M-4,0H-2M-1,0H1M-1,0A0.5,0.5 0 1 1 -2,0A0.5,0.5 0 1 1 -1,0' : 'M-4,0H1'"}, "symbolStrokeWidth": {"expr": "datum.value === 'Calculated PDF' ? 3.5 : 1.3"}, "symbolFillColor": "transparent"}}}},
  {"data": {"name": "expB"},
   "mark": {"type": "point", "filled": false, "size": 100, "strokeWidth": 1.4, "opacity": 1},
   "encoding": {
     "x": {"field": "r", "type": "quantitative", "scale": {"domain": [1, 8.5], "nice": false, "zero": false}, "axis": null},
     "y": {"field": "g", "type": "quantitative", "scale": {"domain": [-2.5, 1.8], "nice": false, "zero": false}, "axis": null},
     "color": {"datum": "Experiment data", "type": "nominal", "scale": {"domain": ["Experiment data", "Calculated PDF", "Difference"], "range": ["#1414ff", "#ff0000", "#555555"]},
       "legend": {"orient": "none", "legendX": 302, "legendY": 14, "symbolType": {"expr": "indexof(datum.value, 'Exper') === 0 ? 'M-4,0H-2M-1,0H1M-1,0A0.5,0.5 0 1 1 -2,0A0.5,0.5 0 1 1 -1,0' : 'M-4,0H1'"}, "symbolStrokeWidth": {"expr": "datum.value === 'Calculated PDF' ? 3.5 : 1.3"}, "symbolFillColor": "transparent"}}}},
  {"data": {"name": "calcB"},
   "mark": {"type": "line", "interpolate": "monotone", "strokeWidth": 3.5},
   "encoding": {
     "x": {"field": "r", "type": "quantitative", "scale": {"domain": [1, 8.5], "nice": false, "zero": false},
       "axis": {"orient": "top", "values": [1,1.5,2,2.5,3,3.5,4,4.5,5,5.5,6,6.5,7,7.5,8], "labels": false, "title": null}},
     "y": {"field": "g", "type": "quantitative", "scale": {"domain": [-2.5, 1.8], "nice": false, "zero": false}, "axis": null},
     "color": {"datum": "Calculated PDF", "type": "nominal", "scale": {"domain": ["Experiment data", "Calculated PDF", "Difference"], "range": ["#1414ff", "#ff0000", "#555555"]},
       "legend": {"orient": "none", "legendX": 302, "legendY": 14, "symbolType": {"expr": "indexof(datum.value, 'Exper') === 0 ? 'M-4,0H-2M-1,0H1M-1,0A0.5,0.5 0 1 1 -2,0A0.5,0.5 0 1 1 -1,0' : 'M-4,0H1'"}, "symbolStrokeWidth": {"expr": "datum.value === 'Calculated PDF' ? 3.5 : 1.3"}, "symbolFillColor": "transparent"}}}},
  {"data": {"values": [{"r": 4.86, "g": -0.79, "t": "Rw = 0.36"}]},
   "mark": {"type": "text", "font": "Liberation Sans", "fontSize": 24, "color": "#ff1a1a", "align": "center", "baseline": "middle"},
   "encoding": {"x": {"field": "r", "type": "quantitative", "axis": null}, "y": {"field": "g", "type": "quantitative", "axis": null}, "text": {"field": "t"}}},
  {"data": {"values": [{"r": 8.25, "g": -1.44, "t": "Neutron"}]},
   "mark": {"type": "text", "font": "Liberation Sans", "fontSize": 25.5, "fontWeight": "bold", "color": "#000000", "align": "right", "baseline": "middle"},
   "encoding": {"x": {"field": "r", "type": "quantitative", "axis": null}, "y": {"field": "g", "type": "quantitative", "axis": null}, "text": {"field": "t"}}},
  {"data": {"values": [{"r": -0.02, "g": 1.7, "t": "(b)"}]},
   "mark": {"type": "text", "font": "Liberation Serif", "fontSize": 26, "fontWeight": "bold", "color": "#000000", "align": "left", "baseline": "middle"},
   "encoding": {"x": {"field": "r", "type": "quantitative", "axis": null}, "y": {"field": "g", "type": "quantitative", "axis": null}, "text": {"field": "t"}}}
 ]
}
]
}
